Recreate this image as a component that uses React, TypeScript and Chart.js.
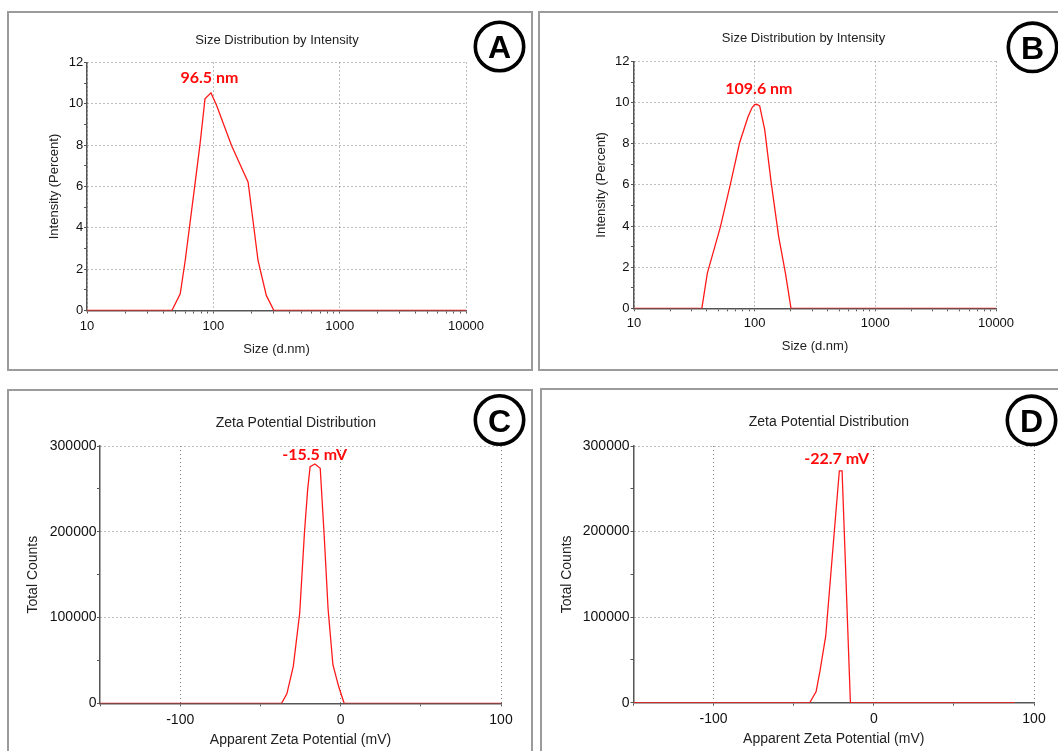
import React, { useEffect, useRef } from "react";
import { Chart, registerables } from "chart.js";

Chart.register(...registerables);

// ---------- Data ----------
// Panel A: size distribution by intensity
const sizeA = [10, 47, 54.7, 59.9, 71.6, 78.5, 85.9, 95.8, 106.2, 139.3, 188.5, 225.9, 262.6, 301.5, 10000];
const intensityA = [0, 0, 0.81, 2.42, 6.13, 8.06, 10.24, 10.53, 9.92, 7.98, 6.21, 2.42, 0.73, 0, 0];

// Panel B: size distribution by intensity
const sizeB = [10, 36.5, 40.5, 52, 63, 75, 88, 95, 100, 104, 110, 121, 137.5, 158, 180, 200, 10000];
const intensityB = [0, 0, 1.7, 3.96, 6.05, 8.05, 9.3, 9.75, 9.9, 9.92, 9.84, 8.7, 6.05, 3.5, 1.7, 0, 0];

// Panel C: zeta potential distribution
const zetaC = [-150, -36.8, -33.5, -29.5, -25.5, -22.5, -20.5, -19, -16, -12.7, -10.3, -7.8, -4.8, -1.2, 2.2, 100];
const countsC = [0, 0, 11000, 43000, 105000, 200000, 250000, 276000, 279000, 274000, 198000, 110000, 45000, 19500, 0, 0];

// Panel D: zeta potential distribution
const zetaD = [-150, -40, -36, -33.5, -30, -24.3, -21.5, -19.8, -14.6, 88];
const countsD = [0, 0, 13000, 38000, 78000, 208000, 271000, 271000, 0, 0];

// Tick labels
const sizeTickLabels = [10, 100, 1000, 10000];
const intensityTickLabels = [0, 2, 4, 6, 8, 10, 12];
const zetaTickLabels = [-100, 0, 100];
const countTickLabels = [0, 100000, 200000, 300000];

// Peak annotations
const peakTexts = ["96.5 nm", "109.6 nm", "-15.5 mV", "-22.7 mV"];
const peakXs = [93, 108.4, -16.2, -23.2];
const peakYs = [11.25, 10.68, 289500, 284700];

const FONT = "'Liberation Sans', Arial, Helvetica, sans-serif";
const LABEL_FONT = "Lato, 'Open Sans', sans-serif";
const GRID = "#7d7d7d";
const AXIS = "#555555";

type PanelCfg = {
  letter: string;
  title: string;
  xTitle: string;
  yTitle: string;
  xs: number[];
  ys: number[];
  xType: "logarithmic" | "linear";
  xMin: number;
  xMax: number;
  xStep: number;
  yMin: number;
  yMax: number;
  yStep: number;
  xLabels: number[];
  yLabels: number[];
  peakText: string;
  peakX: number;
  peakY: number;
  fontSize: number;
  box: [number, number, number, number];
  origin: [number, number];
  size: [number, number];
  area: [number, number, number, number];
  titlePos: [number, number];
  circle: [number, number];
  yTitleX: number;
  xTitleY: number;
  xTickOffset: number;
  yTickGap: number;
};

const panels: PanelCfg[] = [
  {
    letter: "A",
    title: "Size Distribution by Intensity",
    xTitle: "Size (d.nm)",
    yTitle: "Intensity (Percent)",
    xs: sizeA,
    ys: intensityA,
    xType: "logarithmic",
    xMin: 10,
    xMax: 10000,
    xStep: 0,
    yMin: 0,
    yMax: 12,
    yStep: 1,
    xLabels: sizeTickLabels,
    yLabels: intensityTickLabels,
    peakText: peakTexts[0],
    peakX: peakXs[0],
    peakY: peakYs[0],
    fontSize: 13,
    box: [7, 11, 526, 360],
    origin: [8, 12],
    size: [525, 359],
    area: [87, 62.5, 466, 310.5],
    titlePos: [277, 40],
    circle: [499.5, 46.5],
    yTitleX: 54,
    xTitleY: 349.3,
    xTickOffset: 16.2,
    yTickGap: 3.7,
  },
  {
    letter: "B",
    title: "Size Distribution by Intensity",
    xTitle: "Size (d.nm)",
    yTitle: "Intensity (Percent)",
    xs: sizeB,
    ys: intensityB,
    xType: "logarithmic",
    xMin: 10,
    xMax: 10000,
    xStep: 0,
    yMin: 0,
    yMax: 12,
    yStep: 1,
    xLabels: sizeTickLabels,
    yLabels: intensityTickLabels,
    peakText: peakTexts[1],
    peakX: peakXs[1],
    peakY: peakYs[1],
    fontSize: 13,
    box: [538, 11, 600, 360],
    origin: [539, 12],
    size: [519, 359],
    area: [634, 61.5, 996, 308.3],
    titlePos: [803.5, 38.3],
    circle: [1032.5, 47.3],
    yTitleX: 601.7,
    xTitleY: 346,
    xTickOffset: 15,
    yTickGap: 4.5,
  },
  {
    letter: "C",
    title: "Zeta Potential Distribution",
    xTitle: "Apparent Zeta Potential (mV)",
    yTitle: "Total Counts",
    xs: zetaC,
    ys: countsC,
    xType: "linear",
    xMin: -150,
    xMax: 100,
    xStep: 50,
    yMin: 0,
    yMax: 300000,
    yStep: 50000,
    xLabels: zetaTickLabels,
    yLabels: countTickLabels,
    peakText: peakTexts[2],
    peakX: peakXs[2],
    peakY: peakYs[2],
    fontSize: 14,
    box: [7, 389, 526, 400],
    origin: [8, 390],
    size: [525, 361],
    area: [100, 446, 501, 703.3],
    titlePos: [295.8, 422.7],
    circle: [499.5, 420],
    yTitleX: 32.8,
    xTitleY: 740,
    xTickOffset: 16.7,
    yTickGap: 3.5,
  },
  {
    letter: "D",
    title: "Zeta Potential Distribution",
    xTitle: "Apparent Zeta Potential (mV)",
    yTitle: "Total Counts",
    xs: zetaD,
    ys: countsD,
    xType: "linear",
    xMin: -150,
    xMax: 100,
    xStep: 50,
    yMin: 0,
    yMax: 300000,
    yStep: 50000,
    xLabels: zetaTickLabels,
    yLabels: countTickLabels,
    peakText: peakTexts[3],
    peakX: peakXs[3],
    peakY: peakYs[3],
    fontSize: 14,
    box: [540, 388, 600, 400],
    origin: [540, 389],
    size: [518, 362],
    area: [633.5, 446, 1034, 702.7],
    titlePos: [828.9, 421.7],
    circle: [1031.5, 420.3],
    yTitleX: 566.9,
    xTitleY: 739.3,
    xTickOffset: 16.6,
    yTickGap: 4,
  },
];

function buildTickValues(type: string, min: number, max: number, step: number): number[] {
  const out: number[] = [];
  if (type === "logarithmic") {
    const d0 = Math.round(Math.log10(min));
    const d1 = Math.round(Math.log10(max));
    for (let d = d0; d <= d1; d++) {
      const base = Math.pow(10, d);
      for (let k = 1; k <= 9; k++) {
        const v = k * base;
        if (v >= min - 1e-9 && v <= max + 1e-9) out.push(v);
        if (d === d1) break;
      }
    }
  } else {
    const n = Math.round((max - min) / step);
    for (let i = 0; i <= n; i++) out.push(min + i * step);
  }
  return out;
}

function PanelChart({ p }: { p: PanelCfg }) {
  const ref = useRef<HTMLCanvasElement | null>(null);
  const [ox, oy] = p.origin;
  const [W, H] = p.size;

  useEffect(() => {
    const canvas = ref.current;
    if (!canvas) return;
    const [L, T, R, B] = p.area;
    const l = L - ox;
    const t = T - oy;
    const r = R - ox;
    const b = B - oy;
    const fs = p.fontSize;
    const lh = fs * 1.2;
    const tickLen = 3;

    const isIn = (arr: number[], v: any) =>
      typeof v === "number" && arr.some((m) => Math.abs(m - v) < 1e-6 * Math.max(1, Math.abs(m)));

    const xTickVals = buildTickValues(p.xType, p.xMin, p.xMax, p.xStep);
    const yTickVals = buildTickValues("linear", p.yMin, p.yMax, p.yStep);

    const overlay = {
      id: "overlay" + p.letter,
      afterDraw(chart: any) {
        const ctx = chart.ctx as CanvasRenderingContext2D;
        ctx.save();
        // title
        ctx.fillStyle = "#222";
        ctx.font = `${fs}px ${FONT}`;
        ctx.textAlign = "center";
        ctx.textBaseline = "middle";
        ctx.fillText(p.title, p.titlePos[0] - ox, p.titlePos[1] - oy);
        // peak label
        const px = chart.scales.x.getPixelForValue(p.peakX);
        const py = chart.scales.y.getPixelForValue(p.peakY);
        ctx.fillStyle = "#ff0a0a";
        ctx.font = `bold 16px ${LABEL_FONT}`;
        ctx.fillText(p.peakText, px, py);
        // circled letter
        const cx = p.circle[0] - ox;
        const cy = p.circle[1] - oy;
        ctx.beginPath();
        ctx.arc(cx, cy, 24.2, 0, Math.PI * 2);
        ctx.lineWidth = 3.6;
        ctx.strokeStyle = "#000";
        ctx.stroke();
        ctx.fillStyle = "#000";
        ctx.font = `bold 32px ${FONT}`;
        ctx.textBaseline = "alphabetic";
        ctx.fillText(p.letter, cx, cy + 11.5);
        ctx.restore();
      },
    };

    const chart = new Chart(canvas, {
      type: "line",
      data: {
        datasets: [
          {
            data: p.xs.map((x, i) => ({ x, y: p.ys[i] })),
            borderColor: "#ff1a1a",
            borderWidth: 1.3,
            pointRadius: 0,
            tension: 0,
            fill: false,
          },
        ],
      },
      options: {
        responsive: false,
        maintainAspectRatio: false,
        animation: false,
        events: [],
        layout: { padding: { left: 0, top: t, right: W - r, bottom: 0 } },
        plugins: {
          legend: { display: false },
          tooltip: { enabled: false },
          title: { display: false },
        },
        scales: {
          x: {
            type: p.xType,
            position: "bottom",
            min: p.xMin,
            max: p.xMax,
            afterFit: (s: any) => {
              s.height = H - b;
            },
            afterBuildTicks: (s: any) => {
              s.ticks = xTickVals.map((v) => ({ value: v }));
            },
            ticks: {
              autoSkip: false,
              maxRotation: 0,
              minRotation: 0,
              padding: p.xTickOffset - tickLen - lh / 2,
              color: "#111",
              font: { family: FONT, size: fs },
              callback: (v: any) => (isIn(p.xLabels, Number(v)) ? String(Number(v)) : ""),
            },
            grid: {
              color: (c: any) => (isIn(p.xLabels, c.tick?.value) ? GRID : "rgba(0,0,0,0)"),
              lineWidth: 1,
              drawTicks: true,
              tickLength: tickLen,
              tickColor: AXIS,
              tickWidth: 1,
            },
            border: { display: true, color: AXIS, width: 1.5, dash: [1, 3] },
            title: {
              display: true,
              text: p.xTitle,
              color: "#222",
              font: { family: FONT, size: fs },
              padding: { top: 0, bottom: H - (p.xTitleY - oy) - lh / 2 },
            },
          } as any,
          y: {
            type: "linear",
            position: "left",
            min: p.yMin,
            max: p.yMax,
            afterFit: (s: any) => {
              s.width = l;
            },
            afterBuildTicks: (s: any) => {
              s.ticks = yTickVals.map((v) => ({ value: v }));
            },
            ticks: {
              autoSkip: false,
              padding: p.yTickGap - tickLen,
              color: "#111",
              font: { family: FONT, size: fs },
              callback: (v: any) => (isIn(p.yLabels, Number(v)) ? String(Number(v)) : ""),
            },
            grid: {
              color: (c: any) => (isIn(p.yLabels, c.tick?.value) ? GRID : "rgba(0,0,0,0)"),
              lineWidth: 1,
              drawTicks: true,
              tickLength: tickLen,
              tickColor: AXIS,
              tickWidth: 1,
            },
            border: { display: true, color: AXIS, width: 1.5, dash: [1, 3] },
            title: {
              display: true,
              text: p.yTitle,
              color: "#222",
              font: { family: FONT, size: fs },
              padding: { top: p.yTitleX - ox - lh / 2, bottom: 0 },
            },
          },
        },
      },
      plugins: [overlay],
    });
    return () => chart.destroy();
  }, []);

  return (
    <>
      <div
        style={{
          position: "absolute",
          left: p.box[0],
          top: p.box[1],
          width: p.box[2],
          height: p.box[3],
          border: "2px solid #9b9b9b",
          boxSizing: "border-box",
        }}
      />
      <canvas
        ref={ref}
        width={W}
        height={H}
        style={{ position: "absolute", left: ox, top: oy, width: W, height: H }}
      />
    </>
  );
}

export default function App() {
  return (
    <div
      style={{
        position: "fixed",
        left: 0,
        top: 0,
        width: 1058,
        height: 751,
        overflow: "hidden",
        background: "#ffffff",
      }}
    >
      {panels.map((p) => (
        <PanelChart key={p.letter} p={p} />
      ))}
    </div>
  );
}
